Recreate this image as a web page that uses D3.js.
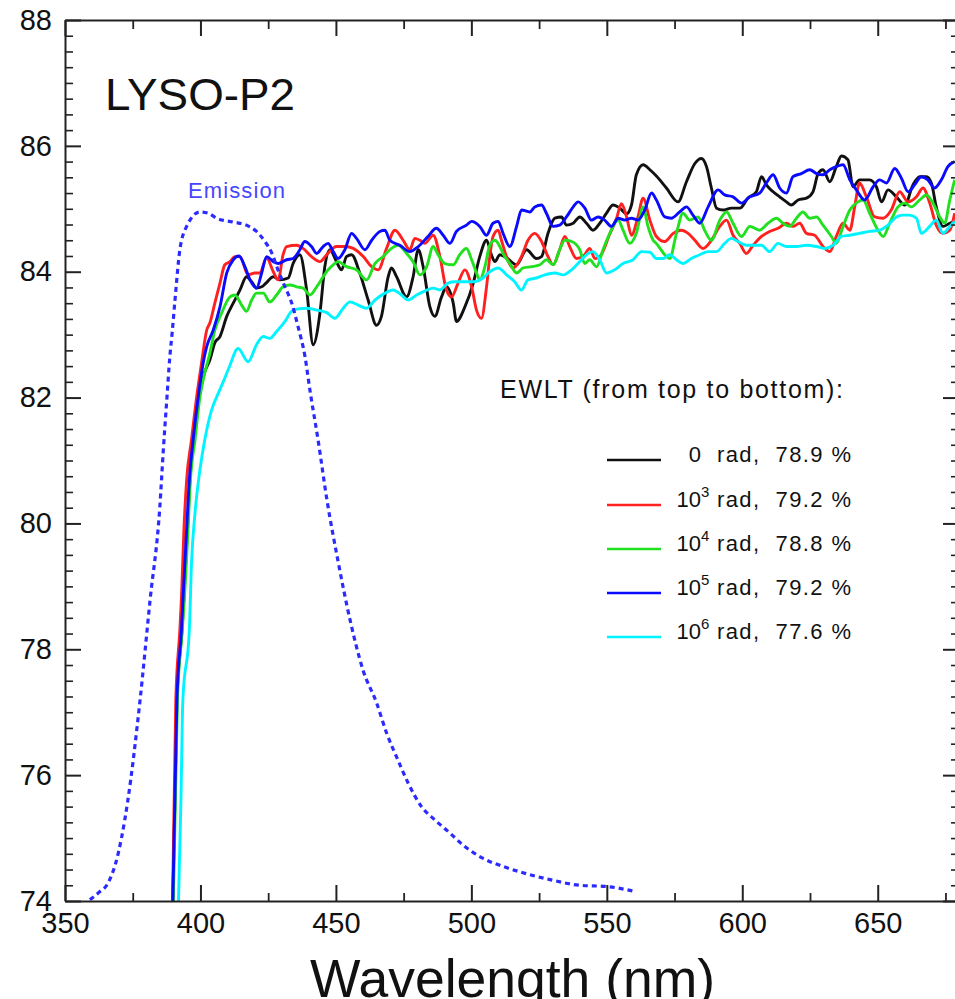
<!DOCTYPE html>
<html>
<head>
<meta charset="utf-8">
<script src="https://cdn.jsdelivr.net/npm/d3@7"></script>
<style>
  body { margin: 0; background: #fff; }
  svg { overflow: hidden; }
  text { font-family: "Liberation Sans", Arial, Helvetica, sans-serif; }
</style>
</head>
<body>
<svg width="955" height="999"></svg>
<script>
// tick values
var xTicks = [350, 400, 450, 500, 550, 600, 650];
var xMinor = [375, 425, 475, 525, 575, 625, 675];
var yTicks = [74, 76, 78, 80, 82, 84, 86, 88];

// transmittance curves [wavelength nm, T %]
var black0 = [[389.8,74.0],[391.3,77.19],[393.2,78.31],[393.9,78.83],[395.2,79.9],[396.1,80.69],[397.6,81.33],[399.4,82.01],[401.6,82.41],[403.5,82.6],[405.3,82.87],[407.2,82.97],[409.7,83.29],[412.1,83.5],[414.6,83.71],[417.0,83.92],[418.9,83.84],[420.7,83.74],[422.6,83.76],[424.2,83.82],[426.9,83.92],[429.3,83.87],[432.4,83.9],[434.2,84.13],[436.7,84.27],[439.2,83.71],[441.6,82.84],[444.1,83.34],[445.9,84.08],[447.8,84.35],[450.2,84.16],[452.1,84.03],[453.9,84.24],[455.8,84.27],[458.8,83.98],[461.9,83.55],[465.0,83.15],[466.8,83.29],[469.3,83.92],[470.5,84.06],[472.4,83.92],[476.1,83.6],[478.5,83.92],[480.4,84.35],[482.2,84.08],[484.7,83.44],[486.5,83.29],[489.0,83.6],[490.8,83.76],[493.3,83.5],[494.5,83.21],[497.6,83.44],[500.7,83.82],[503.1,84.24],[505.6,84.5],[507.4,84.27],[508.7,84.16],[510.5,84.27],[513.0,84.22],[516.7,84.11],[520.4,84.35],[524.0,84.21],[525.9,84.24],[528.3,84.61],[530.8,84.85],[533.3,84.87],[535.1,84.74],[537.6,84.77],[540.0,84.87],[542.5,84.77],[544.9,84.66],[547.4,84.77],[549.9,84.93],[552.3,85.06],[554.8,85.01],[557.3,84.92],[559.1,85.06],[560.9,85.54],[563.4,85.7],[565.9,85.62],[568.3,85.52],[572.0,85.33],[576.3,85.11],[579.4,85.43],[582.5,85.72],[584.9,85.8],[586.8,85.67],[588.6,85.33],[590.5,85.01],[592.9,84.98],[596.0,85.01],[599.1,85.01],[602.1,85.17],[605.2,85.27],[607.1,85.51],[608.9,85.38],[611.4,85.27],[613.8,85.19],[616.3,85.11],[618.1,85.06],[620.6,85.14],[623.7,85.17],[626.1,85.27],[628.0,85.56],[629.8,85.62],[632.3,85.43],[634.7,85.67],[636.6,85.84],[639.0,85.78],[640.9,85.35],[643.3,85.46],[647.0,85.46],[649.5,85.35],[651.4,85.11],[653.8,85.3],[656.9,85.19],[660.0,85.06],[663.0,85.38],[665.5,85.51],[668.0,85.51],[669.8,85.41],[671.6,85.03],[674.1,84.72],[676.6,84.77],[678.4,84.8]];

var red3 = [[389.7,74.0],[390.9,77.19],[392.4,78.31],[393.0,78.83],[393.9,79.9],[394.9,80.69],[396.7,81.33],[398.6,82.01],[400.4,82.55],[402.3,83.07],[403.5,83.19],[405.3,83.5],[407.2,83.82],[409.0,84.11],[410.9,84.16],[412.7,84.24],[414.6,84.24],[417.6,83.95],[420.1,83.98],[421.9,83.98],[424.4,84.22],[426.9,84.0],[428.7,83.87],[430.5,84.27],[431.8,84.4],[435.5,84.42],[437.9,84.37],[441.0,84.24],[444.1,84.16],[446.6,84.27],[450.2,84.4],[453.3,84.4],[456.4,84.37],[460.1,84.24],[463.2,84.08],[465.6,84.03],[468.7,84.37],[471.8,84.66],[474.8,84.5],[477.3,84.35],[479.1,84.53],[481.0,84.5],[482.8,84.45],[485.9,84.58],[488.4,84.24],[490.8,83.71],[492.7,83.6],[495.1,83.82],[497.6,84.03],[500.1,83.76],[501.9,83.39],[503.7,83.26],[505.6,83.76],[506.8,84.24],[508.0,84.56],[509.9,84.66],[511.1,84.5],[513.0,84.24],[515.4,84.06],[518.5,84.24],[520.9,84.5],[523.4,84.61],[525.9,84.48],[528.3,84.24],[530.2,84.11],[532.6,84.35],[534.5,84.56],[536.3,84.4],[538.8,84.21],[541.2,84.24],[543.7,84.37],[545.6,84.21],[547.4,84.24],[551.1,84.6],[553.6,84.85],[555.4,85.08],[557.3,84.87],[559.1,84.58],[561.5,84.87],[563.4,85.17],[565.9,84.82],[568.3,84.56],[571.4,84.48],[574.5,84.61],[577.5,84.66],[580.0,84.61],[582.5,84.5],[585.5,84.37],[588.6,84.5],[591.7,84.72],[594.2,84.82],[596.6,84.58],[599.1,84.45],[601.5,84.29],[604.0,84.42],[607.1,84.56],[610.1,84.64],[613.2,84.69],[616.3,84.77],[618.7,84.72],[621.2,84.77],[623.7,84.61],[626.7,84.58],[629.8,84.4],[632.3,84.32],[634.7,84.56],[637.2,84.77],[639.7,84.66],[641.5,85.03],[643.3,85.41],[645.8,85.19],[648.9,84.87],[652.0,84.85],[655.0,84.98],[658.1,85.27],[661.2,85.11],[664.3,85.19],[666.7,85.33],[669.2,85.09],[671.6,84.74],[674.1,84.61],[676.6,84.66],[678.4,84.93]];

var green4 = [[390.0,74.0],[391.5,77.19],[393.3,78.31],[394.1,78.83],[395.4,79.9],[396.3,80.69],[398.0,81.33],[399.8,82.01],[401.0,82.28],[403.5,82.71],[405.3,83.07],[407.8,83.34],[410.9,83.6],[412.7,83.63],[415.2,83.47],[417.0,83.37],[418.9,83.55],[420.7,83.66],[423.2,83.66],[425.6,83.52],[428.1,83.63],[430.5,83.76],[433.0,83.79],[435.5,83.76],[437.9,83.74],[440.4,83.63],[442.9,83.76],[445.3,83.92],[447.1,84.03],[449.0,84.11],[450.8,84.16],[453.9,84.08],[457.6,84.03],[461.3,83.87],[464.4,84.13],[467.4,84.24],[470.5,84.37],[473.0,84.42],[476.1,84.29],[478.5,84.16],[481.0,83.95],[483.5,84.08],[485.9,84.4],[487.7,84.27],[490.2,84.13],[493.3,84.11],[495.7,84.27],[498.2,84.37],[500.1,84.19],[501.9,83.98],[503.1,83.87],[505.0,84.08],[506.8,84.42],[508.7,84.5],[510.5,84.4],[511.7,84.29],[514.2,84.13],[516.7,83.98],[519.1,84.06],[522.2,84.08],[525.3,84.11],[527.7,84.19],[530.2,84.11],[532.6,84.35],[534.5,84.5],[537.0,84.48],[540.0,84.35],[541.9,84.13],[543.7,84.19],[546.2,84.08],[548.6,84.35],[551.1,84.61],[554.2,84.82],[556.0,84.66],[558.5,84.45],[560.9,84.61],[563.4,85.03],[565.2,84.72],[567.1,84.5],[568.3,84.45],[571.4,84.27],[573.2,84.21],[575.7,84.61],[578.1,84.93],[580.6,84.82],[583.7,84.87],[586.1,84.66],[588.6,84.5],[591.7,84.82],[594.2,84.95],[596.6,84.77],[599.7,84.56],[602.8,84.72],[606.4,84.66],[609.5,84.77],[612.6,84.85],[615.0,84.77],[617.5,84.72],[620.0,84.85],[622.4,84.95],[624.9,84.85],[627.4,84.87],[629.8,84.74],[632.9,84.56],[634.7,84.45],[637.2,84.72],[639.7,84.98],[642.7,85.11],[644.6,85.14],[647.0,84.93],[650.1,84.66],[652.0,84.56],[654.4,84.77],[657.5,85.03],[660.0,85.09],[662.4,85.03],[665.5,85.14],[668.0,85.22],[670.4,85.09],[672.9,84.87],[674.7,84.77],[676.6,85.14],[678.4,85.46]];

var blue5 = [[389.8,74.0],[391.3,77.19],[393.0,78.31],[393.6,78.83],[394.9,79.9],[395.9,80.69],[397.3,81.33],[399.2,82.01],[401.0,82.55],[402.3,82.81],[404.7,83.07],[407.2,83.44],[409.7,83.98],[412.1,84.19],[414.2,84.25],[416.4,84.08],[418.3,83.87],[420.7,83.74],[422.6,83.98],[424.4,84.24],[426.9,84.16],[428.7,84.13],[431.8,84.19],[434.2,84.21],[436.7,84.35],[438.5,84.48],[441.0,84.4],[442.9,84.29],[445.3,84.4],[447.1,84.45],[449.0,84.32],[450.8,84.21],[453.3,84.35],[455.8,84.61],[457.6,84.53],[460.7,84.35],[463.2,84.5],[466.2,84.64],[468.1,84.66],[469.9,84.5],[473.6,84.42],[477.3,84.32],[480.4,84.4],[484.0,84.56],[487.1,84.69],[489.6,84.58],[492.1,84.45],[494.5,84.64],[498.2,84.74],[500.1,84.8],[503.1,84.72],[505.6,84.58],[508.0,84.77],[509.9,84.8],[511.7,84.61],[514.2,84.4],[516.7,84.72],[518.5,84.98],[521.6,84.95],[523.4,85.03],[525.9,85.06],[527.7,84.93],[530.2,84.72],[532.6,84.74],[535.1,84.87],[537.6,85.03],[539.4,85.11],[541.9,85.01],[544.3,84.82],[546.8,84.87],[549.2,84.82],[551.7,84.72],[554.2,84.85],[556.6,84.82],[559.1,84.85],[561.5,84.82],[564.0,84.98],[566.5,85.25],[568.3,85.14],[571.4,84.87],[573.8,84.85],[576.9,84.95],[579.4,85.03],[581.8,84.9],[584.3,84.77],[587.4,85.03],[591.1,85.3],[593.5,85.22],[596.6,85.19],[599.7,85.09],[602.8,85.19],[606.4,85.25],[608.9,85.41],[611.4,85.54],[613.8,85.33],[616.3,85.25],[618.7,85.51],[621.8,85.56],[624.9,85.62],[627.4,85.56],[629.8,85.54],[632.3,85.62],[634.7,85.67],[637.2,85.7],[639.7,85.46],[642.1,85.3],[645.2,85.14],[648.3,85.35],[650.7,85.46],[653.2,85.41],[656.3,85.64],[658.7,85.49],[661.2,85.27],[663.6,85.38],[666.1,85.51],[668.5,85.46],[671.0,85.33],[673.5,85.46],[675.9,85.67],[678.4,85.75]];

var cyan6 = [[391.9,74.0],[392.8,75.6],[393.5,77.19],[395.9,78.31],[396.7,79.37],[398.0,80.17],[399.8,80.85],[401.6,81.33],[404.1,81.8],[406.6,82.07],[408.4,82.25],[410.5,82.47],[413.9,82.78],[417.6,82.57],[420.7,82.84],[423.2,82.97],[425.6,82.94],[428.1,83.05],[431.2,83.21],[433.6,83.37],[436.1,83.41],[439.2,83.42],[442.9,83.39],[446.6,83.35],[449.6,83.26],[452.7,83.42],[455.2,83.52],[458.2,83.47],[461.3,83.42],[464.4,83.55],[468.1,83.66],[471.1,83.71],[474.2,83.63],[476.7,83.55],[479.8,83.63],[482.2,83.68],[485.9,83.74],[488.4,83.71],[491.4,83.82],[493.9,83.84],[497.0,83.84],[500.7,83.84],[504.3,83.9],[506.8,84.0],[509.9,84.06],[513.0,83.95],[516.0,83.84],[518.5,83.71],[520.9,83.87],[524.0,83.9],[527.1,83.95],[530.8,83.98],[533.9,83.95],[537.0,84.03],[540.0,84.16],[543.1,84.29],[544.9,84.32],[547.4,84.19],[549.9,83.98],[552.9,84.03],[556.0,84.13],[559.7,84.19],[562.8,84.32],[565.9,84.31],[568.3,84.21],[570.8,84.21],[573.2,84.27],[575.7,84.19],[578.1,84.13],[581.2,84.21],[584.3,84.27],[587.4,84.32],[590.5,84.32],[593.5,84.45],[596.0,84.53],[598.4,84.48],[601.5,84.42],[604.0,84.42],[607.1,84.42],[610.1,84.32],[613.2,84.45],[616.3,84.4],[620.0,84.4],[623.7,84.42],[627.4,84.4],[630.4,84.37],[633.5,84.42],[636.6,84.56],[639.7,84.58],[643.3,84.61],[647.0,84.64],[650.7,84.66],[653.8,84.74],[656.9,84.87],[659.3,84.9],[661.8,84.9],[664.3,84.85],[666.1,84.61],[669.2,84.72],[671.6,84.82],[674.1,84.61],[676.6,84.72],[678.4,84.8]];

// emission spectrum, plotted on the same axes
var emission = [[359.2,74.02],[362.9,74.15],[365.4,74.25],[367.2,74.41],[368.5,74.57],[373.2,75.6],[377.7,77.19],[381.4,78.78],[385.0,80.26],[386.3,81.17],[387.5,81.92],[388.7,82.65],[389.6,83.05],[390.6,83.55],[392.4,84.35],[394.9,84.72],[399.8,84.95],[402.8,84.93],[406.0,84.85],[412.0,84.79],[417.0,84.74],[420.7,84.64],[423.8,84.48],[426.3,84.3],[428.6,84.03],[431.2,83.76],[433.7,83.5],[436.0,83.13],[438.6,82.65],[440.4,82.12],[443.4,81.33],[446.7,80.37],[450.7,79.42],[455.2,78.47],[460.0,77.67],[465.0,77.15],[468.7,76.67],[472.9,76.24],[476.6,75.88],[481.6,75.5],[486.5,75.29],[492.1,75.08],[496.9,74.89],[504.2,74.68],[511.6,74.55],[519.0,74.45],[529.0,74.34],[540.0,74.25],[549.9,74.23],[559.6,74.16]];

// legend
var legExp = [null, 3, 4, 5, 6];
var legEwlt = ["78.9", "79.2", "78.8", "79.2", "77.6"];
var colors = ["#111111", "#ff2020", "#20e020", "#0a0aff", "#00f4ff"];

var svg = d3.select("svg");
var x = d3.scaleLinear().domain([350, 680]).range([65, 959]);
var y = d3.scaleLinear().domain([74, 88]).range([901, 20]);

svg.append("defs").append("clipPath").attr("id", "plot")
  .append("rect").attr("x", 65).attr("y", 20).attr("width", 894).attr("height", 881);

var line = d3.line()
  .x(function(d) { return x(d[0]); })
  .y(function(d) { return y(d[1]); })
  .curve(d3.curveMonotoneX);

var plot = svg.append("g").attr("clip-path", "url(#plot)");
[black0, red3, green4, blue5, cyan6].forEach(function(s, i) {
  plot.append("path").datum(s)
    .attr("fill", "none")
    .attr("stroke", colors[i])
    .attr("stroke-width", 2.9)
    .attr("stroke-linejoin", "round")
    .attr("d", line);
});
plot.append("path").datum(emission)
  .attr("fill", "none")
  .attr("stroke", "#2b2bff")
  .attr("stroke-width", 3.2)
  .attr("stroke-dasharray", "5,4")
  .attr("d", line);

// axes (ticks point inward)
function style(g, w) {
  g.selectAll(".domain").attr("stroke", "#222").attr("stroke-width", 2);
  g.selectAll(".tick line").attr("stroke", "#222").attr("stroke-width", w);
  g.selectAll(".tick text").attr("font-size", 29).attr("fill", "#111")
    .attr("font-family", "'Liberation Sans', Arial, sans-serif");
}
var yMinor = d3.range(74, 88.01, 0.25).filter(function(v) { return v % 2 !== 0; });

var gb = svg.append("g").attr("transform", "translate(0,901)")
  .call(d3.axisBottom(x).tickValues(xTicks).tickSize(-16).tickSizeOuter(0).tickPadding(11));
style(gb, 2);
var gb2 = svg.append("g").attr("transform", "translate(0,901)")
  .call(d3.axisBottom(x).tickValues(xMinor).tickSize(-8).tickFormat(""));
gb2.select(".domain").remove(); style(gb2, 1.8);

var gt = svg.append("g").attr("transform", "translate(0,20)")
  .call(d3.axisTop(x).tickValues(xTicks).tickSize(-16).tickSizeOuter(0).tickFormat(""));
style(gt, 2);
var gt2 = svg.append("g").attr("transform", "translate(0,20)")
  .call(d3.axisTop(x).tickValues(xMinor).tickSize(-9).tickFormat(""));
gt2.select(".domain").remove(); style(gt2, 1.8);

var gl = svg.append("g").attr("transform", "translate(65,0)")
  .call(d3.axisLeft(y).tickValues(yTicks).tickSize(-16).tickSizeOuter(0).tickPadding(13));
style(gl, 2);
var gl2 = svg.append("g").attr("transform", "translate(65,0)")
  .call(d3.axisLeft(y).tickValues(yMinor).tickSize(-8).tickFormat(""));
gl2.select(".domain").remove(); style(gl2, 1.6);

var gr = svg.append("g").attr("transform", "translate(959,0)")
  .call(d3.axisRight(y).tickValues(yTicks).tickSize(-16).tickSizeOuter(0).tickFormat(""));
style(gr, 2);
var gr2 = svg.append("g").attr("transform", "translate(959,0)")
  .call(d3.axisRight(y).tickValues(yMinor).tickSize(-8).tickFormat(""));
gr2.select(".domain").remove(); style(gr2, 1.6);

// labels
svg.append("text").attr("x", 310).attr("y", 997).attr("font-size", 53)
  .attr("textLength", 405).attr("lengthAdjust", "spacingAndGlyphs")
  .attr("fill", "#111").text("Wavelength (nm)");

svg.append("text").attr("x", 105).attr("y", 110).attr("font-size", 45)
  .attr("textLength", 190).attr("lengthAdjust", "spacingAndGlyphs")
  .attr("fill", "#111").text("LYSO-P2");

svg.append("text").attr("x", 188).attr("y", 198).attr("font-size", 22)
  .attr("textLength", 97).attr("lengthAdjust", "spacing")
  .attr("fill", "#4646ff").text("Emission");

svg.append("text").attr("x", 500).attr("y", 398).attr("font-size", 25)
  .attr("textLength", 343).attr("lengthAdjust", "spacing")
  .attr("fill", "#111").text("EWLT (from top to bottom):");

var rowY = [460, 505, 549, 593, 637];
legExp.forEach(function(e, i) {
  var ry = rowY[i];
  svg.append("line").attr("x1", 607).attr("x2", 661).attr("y1", ry).attr("y2", ry)
    .attr("stroke", colors[i]).attr("stroke-width", 2.6);
  svg.append("text").attr("x", 701).attr("y", ry + 2).attr("font-size", 22)
    .attr("text-anchor", "end").attr("fill", "#111").text(e === null ? "0" : "10");
  if (e !== null) {
    svg.append("text").attr("x", 701).attr("y", ry - 8).attr("font-size", 15)
      .attr("fill", "#111").text(e);
  }
  svg.append("text").attr("x", 717).attr("y", ry + 2).attr("font-size", 22)
    .attr("textLength", 134).attr("lengthAdjust", "spacing")
    .attr("fill", "#111").style("white-space", "pre")
    .text("rad,  " + legEwlt[i] + " %");
});
</script>
</body>
</html>
